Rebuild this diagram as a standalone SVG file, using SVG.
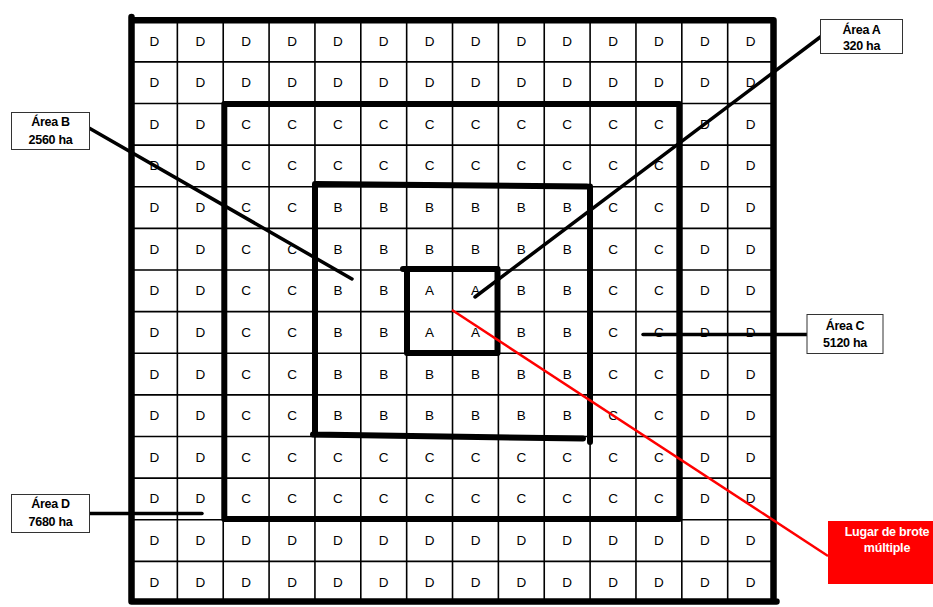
<svg xmlns="http://www.w3.org/2000/svg" width="933" height="607" viewBox="0 0 933 607">
<style>
.cell{font-family:"Liberation Sans",Arial,sans-serif;font-size:13.5px;fill:#000;text-anchor:middle}
.grid{stroke:#000;stroke-width:1.6;fill:none}
.zone{stroke:#000;stroke-width:6;fill:none;stroke-linecap:round;stroke-linejoin:round}
.outer{stroke:#000;stroke-width:6.5;fill:none;stroke-linecap:round;stroke-linejoin:round}
.lbox{fill:#fff;stroke:#333;stroke-width:1}
.ltxt{font-family:"Liberation Sans",Arial,sans-serif;font-size:12.5px;font-weight:bold;fill:#000;text-anchor:middle;letter-spacing:-0.3px}
.rtxt{font-family:"Liberation Sans",Arial,sans-serif;font-size:12.5px;font-weight:bold;fill:#fff;text-anchor:middle;letter-spacing:-0.2px}
.lead{stroke:#000;stroke-width:3.5;stroke-linecap:round;fill:none}
.red{stroke:#f00;stroke-width:2.5;fill:none}
</style>
<rect x="0" y="0" width="933" height="607" fill="#fff"/>
<g id="grid">
<path class="grid" d="M177.36,20V603M223.22,20V603M269.08,20V603M314.94,20V603M360.8,20V603M406.66,20V603M452.52,20V603M498.38,20V603M544.24,20V603M590.1,20V603M635.96,20V603M681.82,20V603M727.68,20V603M131.5,61.92H773.5M131.5,103.54H773.5M131.5,145.16H773.5M131.5,186.78H773.5M131.5,228.4H773.5M131.5,270.02H773.5M131.5,311.64H773.5M131.5,353.26H773.5M131.5,394.88H773.5M131.5,436.5H773.5M131.5,478.12H773.5M131.5,519.74H773.5M131.5,561.36H773.5"/>
<g id="cells">
<text class="cell" x="154.4" y="45.5">D</text><text class="cell" x="200.3" y="45.5">D</text><text class="cell" x="246.2" y="45.5">D</text><text class="cell" x="292" y="45.5">D</text><text class="cell" x="337.9" y="45.5">D</text><text class="cell" x="383.7" y="45.5">D</text><text class="cell" x="429.6" y="45.5">D</text><text class="cell" x="475.5" y="45.5">D</text><text class="cell" x="521.3" y="45.5">D</text><text class="cell" x="567.2" y="45.5">D</text><text class="cell" x="613" y="45.5">D</text><text class="cell" x="658.9" y="45.5">D</text><text class="cell" x="704.8" y="45.5">D</text><text class="cell" x="750.6" y="45.5">D</text>
<text class="cell" x="154.4" y="87.1">D</text><text class="cell" x="200.3" y="87.1">D</text><text class="cell" x="246.2" y="87.1">D</text><text class="cell" x="292" y="87.1">D</text><text class="cell" x="337.9" y="87.1">D</text><text class="cell" x="383.7" y="87.1">D</text><text class="cell" x="429.6" y="87.1">D</text><text class="cell" x="475.5" y="87.1">D</text><text class="cell" x="521.3" y="87.1">D</text><text class="cell" x="567.2" y="87.1">D</text><text class="cell" x="613" y="87.1">D</text><text class="cell" x="658.9" y="87.1">D</text><text class="cell" x="704.8" y="87.1">D</text><text class="cell" x="750.6" y="87.1">D</text>
<text class="cell" x="154.4" y="128.8">D</text><text class="cell" x="200.3" y="128.8">D</text><text class="cell" x="246.2" y="128.8">C</text><text class="cell" x="292" y="128.8">C</text><text class="cell" x="337.9" y="128.8">C</text><text class="cell" x="383.7" y="128.8">C</text><text class="cell" x="429.6" y="128.8">C</text><text class="cell" x="475.5" y="128.8">C</text><text class="cell" x="521.3" y="128.8">C</text><text class="cell" x="567.2" y="128.8">C</text><text class="cell" x="613" y="128.8">C</text><text class="cell" x="658.9" y="128.8">C</text><text class="cell" x="704.8" y="128.8">D</text><text class="cell" x="750.6" y="128.8">D</text>
<text class="cell" x="154.4" y="170.4">D</text><text class="cell" x="200.3" y="170.4">D</text><text class="cell" x="246.2" y="170.4">C</text><text class="cell" x="292" y="170.4">C</text><text class="cell" x="337.9" y="170.4">C</text><text class="cell" x="383.7" y="170.4">C</text><text class="cell" x="429.6" y="170.4">C</text><text class="cell" x="475.5" y="170.4">C</text><text class="cell" x="521.3" y="170.4">C</text><text class="cell" x="567.2" y="170.4">C</text><text class="cell" x="613" y="170.4">C</text><text class="cell" x="658.9" y="170.4">C</text><text class="cell" x="704.8" y="170.4">D</text><text class="cell" x="750.6" y="170.4">D</text>
<text class="cell" x="154.4" y="212">D</text><text class="cell" x="200.3" y="212">D</text><text class="cell" x="246.2" y="212">C</text><text class="cell" x="292" y="212">C</text><text class="cell" x="337.9" y="212">B</text><text class="cell" x="383.7" y="212">B</text><text class="cell" x="429.6" y="212">B</text><text class="cell" x="475.5" y="212">B</text><text class="cell" x="521.3" y="212">B</text><text class="cell" x="567.2" y="212">B</text><text class="cell" x="613" y="212">C</text><text class="cell" x="658.9" y="212">C</text><text class="cell" x="704.8" y="212">D</text><text class="cell" x="750.6" y="212">D</text>
<text class="cell" x="154.4" y="253.6">D</text><text class="cell" x="200.3" y="253.6">D</text><text class="cell" x="246.2" y="253.6">C</text><text class="cell" x="292" y="253.6">C</text><text class="cell" x="337.9" y="253.6">B</text><text class="cell" x="383.7" y="253.6">B</text><text class="cell" x="429.6" y="253.6">B</text><text class="cell" x="475.5" y="253.6">B</text><text class="cell" x="521.3" y="253.6">B</text><text class="cell" x="567.2" y="253.6">B</text><text class="cell" x="613" y="253.6">C</text><text class="cell" x="658.9" y="253.6">C</text><text class="cell" x="704.8" y="253.6">D</text><text class="cell" x="750.6" y="253.6">D</text>
<text class="cell" x="154.4" y="295.2">D</text><text class="cell" x="200.3" y="295.2">D</text><text class="cell" x="246.2" y="295.2">C</text><text class="cell" x="292" y="295.2">C</text><text class="cell" x="337.9" y="295.2">B</text><text class="cell" x="383.7" y="295.2">B</text><text class="cell" x="429.6" y="295.2">A</text><text class="cell" x="475.5" y="295.2">A</text><text class="cell" x="521.3" y="295.2">B</text><text class="cell" x="567.2" y="295.2">B</text><text class="cell" x="613" y="295.2">C</text><text class="cell" x="658.9" y="295.2">C</text><text class="cell" x="704.8" y="295.2">D</text><text class="cell" x="750.6" y="295.2">D</text>
<text class="cell" x="154.4" y="336.9">D</text><text class="cell" x="200.3" y="336.9">D</text><text class="cell" x="246.2" y="336.9">C</text><text class="cell" x="292" y="336.9">C</text><text class="cell" x="337.9" y="336.9">B</text><text class="cell" x="383.7" y="336.9">B</text><text class="cell" x="429.6" y="336.9">A</text><text class="cell" x="475.5" y="336.9">A</text><text class="cell" x="521.3" y="336.9">B</text><text class="cell" x="567.2" y="336.9">B</text><text class="cell" x="613" y="336.9">C</text><text class="cell" x="658.9" y="336.9">C</text><text class="cell" x="704.8" y="336.9">D</text><text class="cell" x="750.6" y="336.9">D</text>
<text class="cell" x="154.4" y="378.5">D</text><text class="cell" x="200.3" y="378.5">D</text><text class="cell" x="246.2" y="378.5">C</text><text class="cell" x="292" y="378.5">C</text><text class="cell" x="337.9" y="378.5">B</text><text class="cell" x="383.7" y="378.5">B</text><text class="cell" x="429.6" y="378.5">B</text><text class="cell" x="475.5" y="378.5">B</text><text class="cell" x="521.3" y="378.5">B</text><text class="cell" x="567.2" y="378.5">B</text><text class="cell" x="613" y="378.5">C</text><text class="cell" x="658.9" y="378.5">C</text><text class="cell" x="704.8" y="378.5">D</text><text class="cell" x="750.6" y="378.5">D</text>
<text class="cell" x="154.4" y="420.1">D</text><text class="cell" x="200.3" y="420.1">D</text><text class="cell" x="246.2" y="420.1">C</text><text class="cell" x="292" y="420.1">C</text><text class="cell" x="337.9" y="420.1">B</text><text class="cell" x="383.7" y="420.1">B</text><text class="cell" x="429.6" y="420.1">B</text><text class="cell" x="475.5" y="420.1">B</text><text class="cell" x="521.3" y="420.1">B</text><text class="cell" x="567.2" y="420.1">B</text><text class="cell" x="613" y="420.1">C</text><text class="cell" x="658.9" y="420.1">C</text><text class="cell" x="704.8" y="420.1">D</text><text class="cell" x="750.6" y="420.1">D</text>
<text class="cell" x="154.4" y="461.7">D</text><text class="cell" x="200.3" y="461.7">D</text><text class="cell" x="246.2" y="461.7">C</text><text class="cell" x="292" y="461.7">C</text><text class="cell" x="337.9" y="461.7">C</text><text class="cell" x="383.7" y="461.7">C</text><text class="cell" x="429.6" y="461.7">C</text><text class="cell" x="475.5" y="461.7">C</text><text class="cell" x="521.3" y="461.7">C</text><text class="cell" x="567.2" y="461.7">C</text><text class="cell" x="613" y="461.7">C</text><text class="cell" x="658.9" y="461.7">C</text><text class="cell" x="704.8" y="461.7">D</text><text class="cell" x="750.6" y="461.7">D</text>
<text class="cell" x="154.4" y="503.3">D</text><text class="cell" x="200.3" y="503.3">D</text><text class="cell" x="246.2" y="503.3">C</text><text class="cell" x="292" y="503.3">C</text><text class="cell" x="337.9" y="503.3">C</text><text class="cell" x="383.7" y="503.3">C</text><text class="cell" x="429.6" y="503.3">C</text><text class="cell" x="475.5" y="503.3">C</text><text class="cell" x="521.3" y="503.3">C</text><text class="cell" x="567.2" y="503.3">C</text><text class="cell" x="613" y="503.3">C</text><text class="cell" x="658.9" y="503.3">C</text><text class="cell" x="704.8" y="503.3">D</text><text class="cell" x="750.6" y="503.3">D</text>
<text class="cell" x="154.4" y="545">D</text><text class="cell" x="200.3" y="545">D</text><text class="cell" x="246.2" y="545">D</text><text class="cell" x="292" y="545">D</text><text class="cell" x="337.9" y="545">D</text><text class="cell" x="383.7" y="545">D</text><text class="cell" x="429.6" y="545">D</text><text class="cell" x="475.5" y="545">D</text><text class="cell" x="521.3" y="545">D</text><text class="cell" x="567.2" y="545">D</text><text class="cell" x="613" y="545">D</text><text class="cell" x="658.9" y="545">D</text><text class="cell" x="704.8" y="545">D</text><text class="cell" x="750.6" y="545">D</text>
<text class="cell" x="154.4" y="586.6">D</text><text class="cell" x="200.3" y="586.6">D</text><text class="cell" x="246.2" y="586.6">D</text><text class="cell" x="292" y="586.6">D</text><text class="cell" x="337.9" y="586.6">D</text><text class="cell" x="383.7" y="586.6">D</text><text class="cell" x="429.6" y="586.6">D</text><text class="cell" x="475.5" y="586.6">D</text><text class="cell" x="521.3" y="586.6">D</text><text class="cell" x="567.2" y="586.6">D</text><text class="cell" x="613" y="586.6">D</text><text class="cell" x="658.9" y="586.6">D</text><text class="cell" x="704.8" y="586.6">D</text><text class="cell" x="750.6" y="586.6">D</text>
</g>
</g>
<g id="zone-D"><path class="outer" d="M131.5,17V601.5M131.5,20.3H773.5M773.5,20.3V601.5M131.5,601.5H776.5"/></g>
<g id="zone-C"><path class="zone" d="M224.3,104H679.3V519H224.3Z"/></g>
<g id="zone-B"><path class="zone" d="M315,184L587,186.5M590,186.5V442M583,438.5L313,434.5M315,435V184"/></g>
<g id="zone-A"><path class="zone" d="M403,269H497.5V353H407V269"/></g>
<g id="connectors">
<line class="lead" x1="821" y1="36.5" x2="475" y2="297"/>
<line class="lead" x1="89" y1="128" x2="352" y2="279"/>
<line class="lead" x1="643" y1="334.5" x2="807" y2="334.5"/>
<line class="lead" x1="89" y1="513.5" x2="202" y2="513.5"/>
<line class="red" x1="452" y1="310" x2="828" y2="556"/>
</g>
<g id="label-A"><rect class="lbox" x="820.5" y="19.5" width="82" height="34"/><text class="ltxt" x="861.5" y="33.5">Área A</text><text class="ltxt" x="861.5" y="50.3">320 ha</text></g>
<g id="label-B"><rect class="lbox" x="11.5" y="112.5" width="78" height="37"/><text class="ltxt" x="50.5" y="126">Área B</text><text class="ltxt" x="50.5" y="143.5">2560 ha</text></g>
<g id="label-C"><rect class="lbox" x="807" y="314.5" width="76" height="39"/><text class="ltxt" x="845" y="329.5">Área C</text><text class="ltxt" x="845" y="347.3">5120 ha</text></g>
<g id="label-D"><rect class="lbox" x="11.5" y="494.5" width="78" height="38"/><text class="ltxt" x="50.5" y="508">Área D</text><text class="ltxt" x="50.5" y="526">7680 ha</text></g>
<g id="label-outbreak"><rect x="828" y="521" width="110" height="63" fill="#f00"/><text class="rtxt" x="887" y="535.5">Lugar de brote</text><text class="rtxt" x="887" y="552">múltiple</text></g>
</svg>
